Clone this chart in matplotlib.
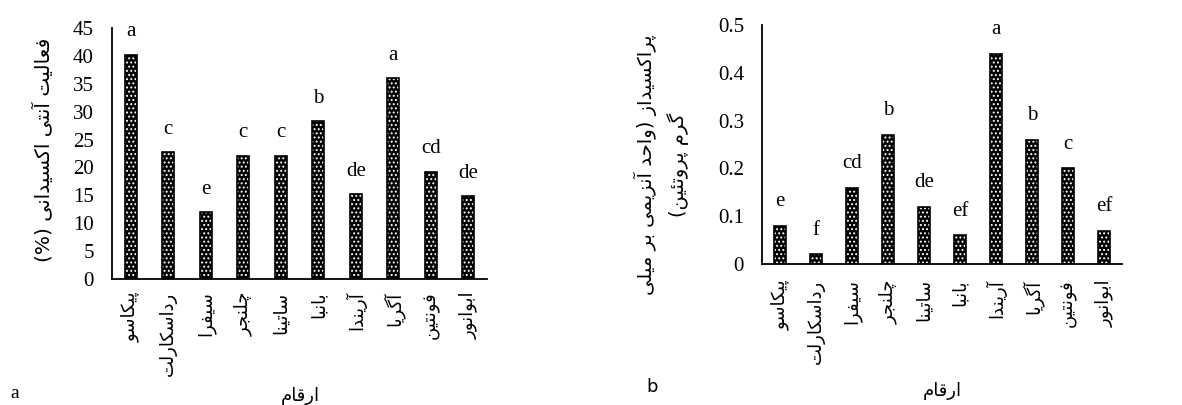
import matplotlib
matplotlib.use('Agg')
import matplotlib.pyplot as plt
import numpy as np

# ---------------- data ----------------
cultivars = ['پیکاسو', 'رداسکارلت', 'سیفرا', 'چلنجر', 'ساتینا',
             'بانبا', 'آریندا', 'آگریا', 'فونتین', 'ابوانور']
antioxidant = [40.2, 22.7, 12.0, 22.1, 22.1, 28.3, 15.2, 36.0, 19.2, 14.8]
antioxidant_letters = ['a', 'c', 'e', 'c', 'c', 'b', 'de', 'a', 'cd', 'de']
peroxidase = [0.08, 0.02, 0.16, 0.27, 0.12, 0.06, 0.44, 0.26, 0.20, 0.07]
peroxidase_letters = ['e', 'f', 'cd', 'b', 'de', 'ef', 'a', 'b', 'c', 'ef']
yticks_a = [0, 5, 10, 15, 20, 25, 30, 35, 40, 45]
yticks_b = [0, 0.1, 0.2, 0.3, 0.4, 0.5]
ytick_labels_b = ['0', '0.1', '0.2', '0.3', '0.4', '0.5']
ylabel_a = 'فعالیت آنتی اکسیدانی (%)'
ylabel_b = 'پراکسیداز (واحد آنزیمی بر میلی\nگرم پروتئین)'
xlabel = 'ارقام'

# ------------- minimal Persian shaping (presentation forms + RTL) -------------
FORMS = {
    'ا': (0xFE8D, 0xFE8E, None, None), 'آ': (0xFE81, 0xFE82, None, None),
    'ب': (0xFE8F, 0xFE90, 0xFE91, 0xFE92), 'پ': (0xFB56, 0xFB57, 0xFB58, 0xFB59),
    'ت': (0xFE95, 0xFE96, 0xFE97, 0xFE98), 'ث': (0xFE99, 0xFE9A, 0xFE9B, 0xFE9C),
    'ج': (0xFE9D, 0xFE9E, 0xFE9F, 0xFEA0), 'چ': (0xFB7A, 0xFB7B, 0xFB7C, 0xFB7D),
    'ح': (0xFEA1, 0xFEA2, 0xFEA3, 0xFEA4), 'خ': (0xFEA5, 0xFEA6, 0xFEA7, 0xFEA8),
    'د': (0xFEA9, 0xFEAA, None, None), 'ذ': (0xFEAB, 0xFEAC, None, None),
    'ر': (0xFEAD, 0xFEAE, None, None), 'ز': (0xFEAF, 0xFEB0, None, None),
    'ژ': (0xFB8A, 0xFB8B, None, None),
    'س': (0xFEB1, 0xFEB2, 0xFEB3, 0xFEB4), 'ش': (0xFEB5, 0xFEB6, 0xFEB7, 0xFEB8),
    'ع': (0xFEC9, 0xFECA, 0xFECB, 0xFECC), 'غ': (0xFECD, 0xFECE, 0xFECF, 0xFED0),
    'ف': (0xFED1, 0xFED2, 0xFED3, 0xFED4), 'ق': (0xFED5, 0xFED6, 0xFED7, 0xFED8),
    'ک': (0xFB8E, 0xFB8F, 0xFB90, 0xFB91), 'گ': (0xFB92, 0xFB93, 0xFB94, 0xFB95),
    'ل': (0xFEDD, 0xFEDE, 0xFEDF, 0xFEE0), 'م': (0xFEE1, 0xFEE2, 0xFEE3, 0xFEE4),
    'ن': (0xFEE5, 0xFEE6, 0xFEE7, 0xFEE8), 'و': (0xFEED, 0xFEEE, None, None),
    'ه': (0xFEE9, 0xFEEA, 0xFEEB, 0xFEEC), 'ی': (0xFBFC, 0xFBFD, 0xFBFE, 0xFBFF),
    'ئ': (0xFE89, 0xFE8A, 0xFE8B, 0xFE8C),
}
MIRROR = {'(': ')', ')': '('}


def shape_line(s):
    out = []
    n = len(s)
    i = 0
    while i < n:
        c = s[i]
        if c not in FORMS:
            out.append(MIRROR.get(c, c))
            i += 1
            continue
        prev = s[i - 1] if i > 0 else ''
        prev_joins = prev in FORMS and FORMS[prev][2] is not None
        # lam-alef ligature
        if c == 'ل' and i + 1 < n and s[i + 1] in ('ا', 'آ'):
            lig = (0xFEFB, 0xFEFC) if s[i + 1] == 'ا' else (0xFEF5, 0xFEF6)
            out.append(chr(lig[1] if prev_joins else lig[0]))
            i += 2
            continue
        nxt = s[i + 1] if i + 1 < n else ''
        dual = FORMS[c][2] is not None
        next_joins = nxt in FORMS and dual
        iso, fin, ini, med = FORMS[c]
        if prev_joins and next_joins:
            ch = med
        elif prev_joins:
            ch = fin
        elif next_joins:
            ch = ini
        else:
            ch = iso
        out.append(chr(ch))
        i += 1
    return ''.join(reversed(out))


def fa(s):
    return '\n'.join(shape_line(line) for line in s.split('\n'))


FA_FONT = ['DejaVu Sans']
NUM_FONT = ['Liberation Serif', 'DejaVu Serif']

plt.rcParams['hatch.linewidth'] = 0.9

fig = plt.figure(figsize=(11.82, 4.05), dpi=100)
W, H = 1182, 405


def px_axes(l, r, top, bottom):
    return fig.add_axes([l / W, 1 - bottom / H, (r - l) / W, (bottom - top) / H])


ax_a = px_axes(112, 487, 28, 279)
ax_b = px_axes(762, 1122, 25, 264)


def draw_panel(ax, vals, letters, yticks, ytlabels, width, offset_px, xpad):
    x = np.arange(len(cultivars))
    ax.bar(x, vals, width=width, color='black', edgecolor='white', hatch='....',
           linewidth=0, zorder=2)
    ax.bar(x, vals, width=width, facecolor='none', edgecolor='black',
           linewidth=1.2, zorder=3)
    for xi, v, lab in zip(x, vals, letters):
        ax.annotate(lab, (xi, v), xytext=(0, offset_px * 72 / 100),
                    textcoords='offset points', ha='center', va='center',
                    fontsize=15, family=NUM_FONT, annotation_clip=False)
    ax.set_xlim(-0.5, len(cultivars) - 0.5)
    ax.set_ylim(yticks[0], yticks[-1])
    ax.set_yticks(yticks)
    ax.set_yticklabels(ytlabels, family=NUM_FONT, fontsize=15)
    ax.set_xticks(x)
    ax.set_xticklabels([fa(c) for c in cultivars], rotation=90, ha='center', va='top',
                       family=FA_FONT, fontsize=13)
    ax.tick_params(axis='y', length=0, pad=13)
    ax.tick_params(axis='x', length=0, pad=xpad)
    for s in ('top', 'right'):
        ax.spines[s].set_visible(False)
    for s in ('left', 'bottom'):
        ax.spines[s].set_linewidth(1.3)
        ax.spines[s].set_color('black')


draw_panel(ax_a, antioxidant, antioxidant_letters, yticks_a,
           [str(t) for t in yticks_a], 0.32, 23, 9)
draw_panel(ax_b, peroxidase, peroxidase_letters, yticks_b, ytick_labels_b, 0.34, 24, 11)

# axis titles
fig.text(43 / W, 1 - 150 / H, fa(ylabel_a), rotation=90, ha='center', va='center',
         family=FA_FONT, fontsize=14.5)
fig.text(661 / W, 1 - 165 / H, fa(ylabel_b), rotation=90, ha='center', va='center',
         multialignment='center', family=FA_FONT, fontsize=14, linespacing=1.6)
fig.text(300 / W, 1 - 396 / H, fa(xlabel), ha='center', va='center',
         family=FA_FONT, fontsize=13)
fig.text(942 / W, 1 - 391 / H, fa(xlabel), ha='center', va='center',
         family=FA_FONT, fontsize=13)

# panel letters
fig.text(15 / W, 1 - 393 / H, 'a', ha='center', va='center', family=NUM_FONT, fontsize=14)
fig.text(652 / W, 1 - 387 / H, 'b', ha='center', va='center', family=['DejaVu Sans'], fontsize=13)

fig.savefig('out.png', dpi=100, facecolor='white')
